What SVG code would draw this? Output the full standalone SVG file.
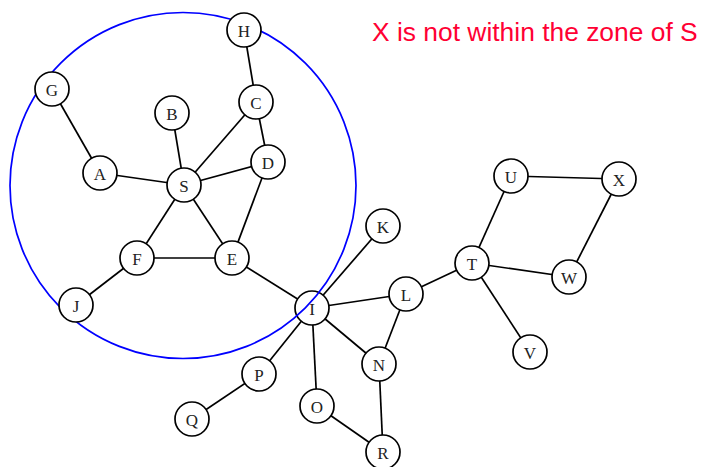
<svg xmlns="http://www.w3.org/2000/svg" width="704" height="467" viewBox="0 0 704 467">
<style>
.e{stroke:#000;stroke-width:1.7;fill:none}
.n circle{fill:#fff;stroke:#000;stroke-width:1.7}
.n text{font-family:"Liberation Serif","Times New Roman",serif;font-size:17px;fill:#222;text-anchor:middle;dominant-baseline:central}
</style>
<rect width="704" height="467" fill="#fff"/>
<g id="connectors">
<line class="e" x1="52" y1="89" x2="100" y2="173"/>
<line class="e" x1="100" y1="173" x2="184" y2="185"/>
<line class="e" x1="172" y1="113" x2="184" y2="185"/>
<line class="e" x1="184" y1="185" x2="256" y2="102"/>
<line class="e" x1="184" y1="185" x2="268" y2="162"/>
<line class="e" x1="244" y1="30" x2="256" y2="102"/>
<line class="e" x1="256" y1="102" x2="268" y2="162"/>
<line class="e" x1="268" y1="162" x2="232" y2="258"/>
<line class="e" x1="184" y1="185" x2="137" y2="258"/>
<line class="e" x1="184" y1="185" x2="232" y2="258"/>
<line class="e" x1="137" y1="258" x2="232" y2="258"/>
<line class="e" x1="137" y1="258" x2="76" y2="305"/>
<line class="e" x1="232" y1="258" x2="312" y2="308"/>
<line class="e" x1="312" y1="308" x2="383" y2="226"/>
<line class="e" x1="312" y1="308" x2="406" y2="294"/>
<line class="e" x1="312" y1="308" x2="379" y2="364"/>
<line class="e" x1="312" y1="308" x2="259" y2="374"/>
<line class="e" x1="312" y1="308" x2="317" y2="406"/>
<line class="e" x1="406" y1="294" x2="379" y2="364"/>
<line class="e" x1="406" y1="294" x2="472" y2="263"/>
<line class="e" x1="472" y1="263" x2="511" y2="176"/>
<line class="e" x1="511" y1="176" x2="619" y2="179"/>
<line class="e" x1="619" y1="179" x2="569" y2="277"/>
<line class="e" x1="472" y1="263" x2="569" y2="277"/>
<line class="e" x1="472" y1="263" x2="530" y2="352"/>
<line class="e" x1="259" y1="374" x2="192" y2="419"/>
<line class="e" x1="317" y1="406" x2="383" y2="452"/>
<line class="e" x1="379" y1="364" x2="383" y2="452"/>
</g>
<g id="node-I" class="n"><circle cx="312" cy="308" r="17"/><text x="312" y="309">I</text></g>
<circle id="zone" cx="183" cy="185.5" r="173" fill="none" stroke="#0000ff" stroke-width="1.7"/>
<g id="node-H" class="n"><circle cx="244" cy="30" r="17"/><text x="244" y="31">H</text></g>
<g id="node-G" class="n"><circle cx="52" cy="89" r="17"/><text x="52" y="90">G</text></g>
<g id="node-C" class="n"><circle cx="256" cy="102" r="17"/><text x="256" y="103">C</text></g>
<g id="node-B" class="n"><circle cx="172" cy="113" r="17"/><text x="172" y="114">B</text></g>
<g id="node-D" class="n"><circle cx="268" cy="162" r="17"/><text x="268" y="163">D</text></g>
<g id="node-A" class="n"><circle cx="100" cy="173" r="17"/><text x="100" y="174">A</text></g>
<g id="node-S" class="n"><circle cx="184" cy="185" r="17"/><text x="184" y="186">S</text></g>
<g id="node-F" class="n"><circle cx="137" cy="258" r="17"/><text x="137" y="259">F</text></g>
<g id="node-E" class="n"><circle cx="232" cy="258" r="17"/><text x="232" y="259">E</text></g>
<g id="node-J" class="n"><circle cx="76" cy="305" r="17"/><text x="76" y="306">J</text></g>
<g id="node-K" class="n"><circle cx="383" cy="226" r="17"/><text x="383" y="227">K</text></g>
<g id="node-L" class="n"><circle cx="406" cy="294" r="17"/><text x="406" y="295">L</text></g>
<g id="node-N" class="n"><circle cx="379" cy="364" r="17"/><text x="379" y="365">N</text></g>
<g id="node-P" class="n"><circle cx="259" cy="374" r="17"/><text x="259" y="375">P</text></g>
<g id="node-Q" class="n"><circle cx="192" cy="419" r="17"/><text x="192" y="420">Q</text></g>
<g id="node-O" class="n"><circle cx="317" cy="406" r="17"/><text x="317" y="407">O</text></g>
<g id="node-R" class="n"><circle cx="383" cy="452" r="17"/><text x="383" y="453">R</text></g>
<g id="node-T" class="n"><circle cx="472" cy="263" r="17"/><text x="472" y="264">T</text></g>
<g id="node-U" class="n"><circle cx="511" cy="176" r="17"/><text x="511" y="177">U</text></g>
<g id="node-X" class="n"><circle cx="619" cy="179" r="17"/><text x="619" y="180">X</text></g>
<g id="node-W" class="n"><circle cx="569" cy="277" r="17"/><text x="569" y="278">W</text></g>
<g id="node-V" class="n"><circle cx="530" cy="352" r="17"/><text x="530" y="353">V</text></g>
<text id="caption" x="372" y="41" font-family="'Liberation Sans',Arial,sans-serif" font-size="26.4" fill="#ff0033">X is not within the zone of S</text>
</svg>
